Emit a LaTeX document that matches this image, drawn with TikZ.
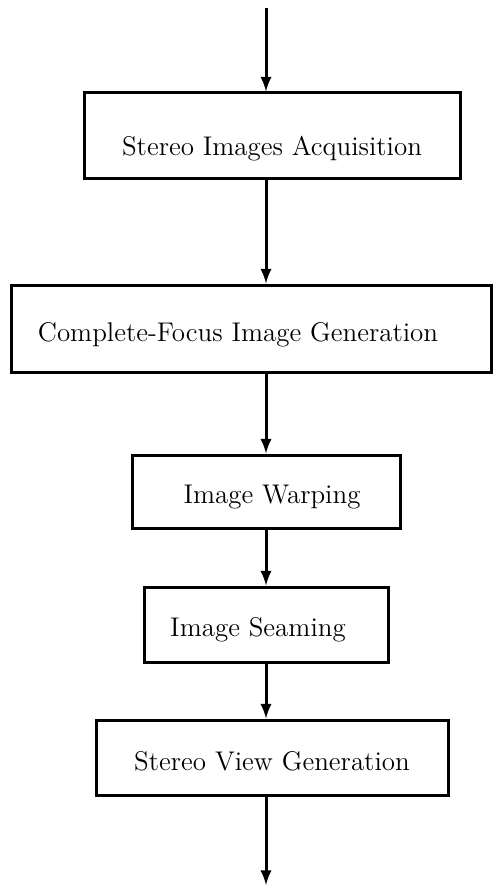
\documentclass[tikz,border=0pt]{standalone}
\usepackage{tikz}
\usepgflibrary{arrows}
\newcommand{\lejjebb}[2]{\raisebox{-#1}[\height][\depth]{#2}}

\begin{document}
\begin{tikzpicture}[x=0.5pt,y=-0.5pt,line width=1.5pt]
\tikzset{blok/.style={draw=black, rectangle, inner sep=0pt, font=\fontsize{13.5}{16}\selectfont}}
\useasboundingbox (0,0) rectangle (492,893);

\coordinate (kezd) at (266,8);
\coordinate (veg) at (266,885);

\node[blok, minimum width=188pt, minimum height=43pt] (acq) at (272,136){\lejjebb{6.5pt}{Stereo Images Acquisition}};
\node[blok, minimum width=240pt, minimum height=43.5pt] (focus) at (251,328.5){\lejjebb{3pt}{Complete-Focus Image Generation}\hspace*{13pt}};
\node[blok, minimum width=134pt, minimum height=36.5pt] (warp) at (266,491.5){\hspace*{6pt}\lejjebb{3pt}{Image Warping}};
\node[blok, minimum width=122pt, minimum height=37.5pt] (seam) at (266,624.5){\lejjebb{2.5pt}{Image Seaming}\hspace*{8pt}};
\node[blok, minimum width=176pt, minimum height=37.5pt] (view) at (272,757.5){\lejjebb{2pt}{Stereo View Generation}};

\draw[-latex] (kezd) -- (kezd |- acq.north);
\draw[-latex] (acq.south -| kezd) -- (focus.north -| kezd);
\draw[-latex] (focus.south -| kezd) -- (warp.north -| kezd);
\draw[-latex] (warp.south -| kezd) -- (seam.north -| kezd);
\draw[-latex] (seam.south -| kezd) -- (view.north -| kezd);
\draw[-latex] (view.south -| kezd) -- (veg);

\end{tikzpicture}
\end{document}
